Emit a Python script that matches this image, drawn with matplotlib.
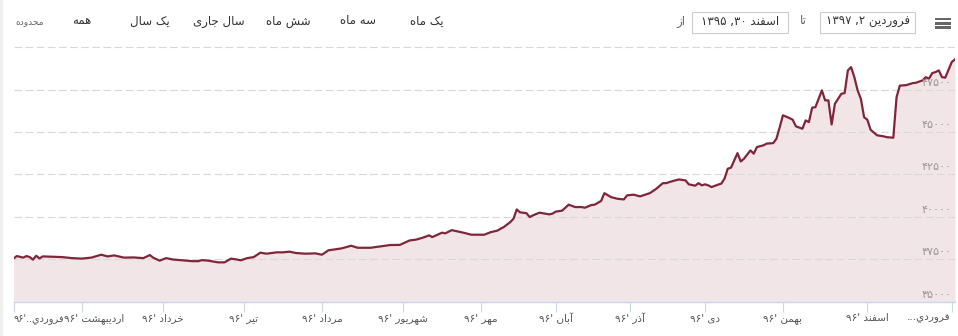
import numpy as np
import matplotlib
matplotlib.use("Agg")
import matplotlib.pyplot as plt
from matplotlib.patches import Rectangle

# ---------------- data ----------------
day_idx = [0, 1, 3, 4, 5, 6, 7, 8, 9, 12, 15, 18, 21, 24, 27, 29, 31, 34, 37, 40,
           42, 43, 45, 47, 49, 52, 55, 57, 58, 60, 63, 65, 67, 69, 70, 72, 74, 76, 78, 81,
           83, 85, 87, 90, 93, 95, 97, 101, 104, 106, 110, 113, 116, 119, 122, 124, 126, 128, 129, 132,
           133, 135, 139, 141, 145, 147, 149, 151, 153, 154, 155, 156, 158, 159, 160, 162, 165, 166, 167, 169,
           171, 173, 175, 176, 178, 179, 181, 182, 184, 186, 188, 189, 191, 193, 196, 198, 200, 201, 203, 205,
           207, 208, 210, 211, 212, 213, 214, 215, 217, 218, 219, 220, 221, 223, 224, 225, 227, 228, 229, 231,
           232, 234, 235, 236, 237, 239, 240, 241, 243, 244, 245, 246, 247, 249, 250, 251, 252, 253, 255, 256,
           257, 258, 259, 260, 261, 262, 263, 264, 266, 268, 269, 271, 272, 273, 275, 277, 278, 280, 281, 282,
           283, 284, 285, 286, 287, 289, 290]
rate = [37540, 37690, 37600, 37690, 37630, 37480, 37710, 37550, 37670, 37650, 37630, 37570, 37540, 37600, 37770, 37670, 37730, 37600, 37610, 37570,
        37750, 37600, 37420, 37570, 37490, 37440, 37390, 37390, 37450, 37420, 37320, 37320, 37540, 37480, 37440, 37570, 37630, 37890, 37830, 37910,
        37910, 37950, 37870, 37830, 37850, 37770, 38030, 38140, 38300, 38180, 38180, 38260, 38340, 38350, 38610, 38660, 38770, 38910, 38810, 39070,
        39030, 39220, 39050, 38950, 38950, 39100, 39190, 39400, 39690, 39890, 40440, 40270, 40220, 39990, 40090, 40250, 40150, 40190, 40310, 40370,
        40720, 40580, 40580, 40540, 40700, 40720, 40940, 41400, 41170, 41070, 41030, 41270, 41310, 41210, 41400, 41660, 41990, 41990, 42110, 42210,
        42150, 41920, 41840, 41990, 41860, 41920, 41860, 41760, 41900, 41960, 42250, 42840, 42900, 43760, 43270, 43430, 43920, 43730, 44120, 44220,
        44320, 44350, 44610, 45280, 45990, 45830, 45730, 45340, 45200, 45690, 45590, 46440, 46470, 47460, 46870, 46870, 45450, 46670, 47260, 47300,
        48640, 48830, 48240, 47460, 46970, 45880, 45730, 45140, 44810, 44750, 44700, 44670, 47060, 47740, 47770, 47890, 47910, 48050, 48240, 48150,
        48480, 48540, 48640, 48240, 48210, 49130, 49290]

month_idx = [0, 21, 46, 71, 95, 120, 144, 167, 190, 213, 237, 263, 289]
month_names = ["فروردي", "اردیبهشت", "خرداد", "تیر", "مرداد", "شهریور", "مهر",
               "آبان", "آذر", "دی", "بهمن", "اسفند", "فروردي"]
year_text = "96"
ytick_vals = [35000, 37500, 40000, 42500, 45000, 47500, 50000]
ylabel_vals = [35000, 37500, 40000, 42500, 45000, 47500]

range_buttons = ["همه", "یک سال", "سال جاری", "شش ماه", "سه ماه", "یک ماه"]
range_label = "محدوده"
from_label = "از"
to_label = "تا"
from_month, from_day, from_year = "اسفند", "30", "1395"
to_month, to_day, to_year = "فروردین", "2", "1397"

# ---------------- persian shaping helpers ----------------
FORMS = {
    'ا': ('\uFE8D', '\uFE8E', None, None),
    'آ': ('\uFE81', '\uFE82', None, None),
    'ب': ('\uFE8F', '\uFE90', '\uFE91', '\uFE92'),
    'پ': ('\uFB56', '\uFB57', '\uFB58', '\uFB59'),
    'ت': ('\uFE95', '\uFE96', '\uFE97', '\uFE98'),
    'ج': ('\uFE9D', '\uFE9E', '\uFE9F', '\uFEA0'),
    'ح': ('\uFEA1', '\uFEA2', '\uFEA3', '\uFEA4'),
    'خ': ('\uFEA5', '\uFEA6', '\uFEA7', '\uFEA8'),
    'د': ('\uFEA9', '\uFEAA', None, None),
    'ذ': ('\uFEAB', '\uFEAC', None, None),
    'ر': ('\uFEAD', '\uFEAE', None, None),
    'ز': ('\uFEAF', '\uFEB0', None, None),
    'س': ('\uFEB1', '\uFEB2', '\uFEB3', '\uFEB4'),
    'ش': ('\uFEB5', '\uFEB6', '\uFEB7', '\uFEB8'),
    'ف': ('\uFED1', '\uFED2', '\uFED3', '\uFED4'),
    'ک': ('\uFB8E', '\uFB8F', '\uFB90', '\uFB91'),
    'ل': ('\uFEDD', '\uFEDE', '\uFEDF', '\uFEE0'),
    'م': ('\uFEE1', '\uFEE2', '\uFEE3', '\uFEE4'),
    'ن': ('\uFEE5', '\uFEE6', '\uFEE7', '\uFEE8'),
    'ه': ('\uFEE9', '\uFEEA', '\uFEEB', '\uFEEC'),
    'و': ('\uFEED', '\uFEEE', None, None),
    'ی': ('\uFBFC', '\uFBFD', '\uFBFE', '\uFBFF'),
    'ي': ('\uFEF1', '\uFEF2', '\uFEF3', '\uFEF4'),
}


def rtl(text):
    out = []
    n = len(text)
    for i, ch in enumerate(text):
        f = FORMS.get(ch)
        if f is None:
            out.append(ch)
            continue
        prev = text[i - 1] if i > 0 else None
        nxt = text[i + 1] if i < n - 1 else None
        jp = (prev in FORMS and FORMS[prev][2] is not None) if prev else False
        jn = (nxt in FORMS and f[2] is not None) if nxt else False
        if jp and jn:
            g = f[3]
        elif jp:
            g = f[1]
        elif jn:
            g = f[2]
        else:
            g = f[0]
        out.append(g)
    return ''.join(reversed(out))


PDIG = str.maketrans('0123456789', '۰۱۲۳۴۵۶۷۸۹')


def fa(s):
    return str(s).translate(PDIG)


# ---------------- figure ----------------
W, H = 958, 336
fig = plt.figure(figsize=(W / 100, H / 100), dpi=100)
fig.patch.set_facecolor('white')
plt.rcParams['font.family'] = ['DejaVu Sans']

LEFT, RIGHT, TOP, BOTTOM = 13.5, 955.0, 40.0, 301.7
ax = fig.add_axes([LEFT / W, 1 - BOTTOM / H, (RIGHT - LEFT) / W, (BOTTOM - TOP) / H])
px_per_val = 42.4 / 2500.0
ax.set_xlim(0, 290)
ax.set_ylim(35000, 35000 + (BOTTOM - TOP) / px_per_val)
for s in ['top', 'left', 'right']:
    ax.spines[s].set_visible(False)
ax.spines['bottom'].set_color('#ccd6eb')
ax.spines['bottom'].set_linewidth(1.0)
ax.set_facecolor('none')

# grid lines
for v in ytick_vals[1:]:
    ax.axhline(v, color='#d8d8d8', lw=0.8, dashes=(7, 3), zorder=1)

line_color = '#80263a'
ax.fill_between(day_idx, rate, 35000, color='#f2e5e8', lw=0, zorder=0.5)
ax.plot(day_idx, rate, color=line_color, lw=1.6, zorder=3, solid_joinstyle='round')

# y labels inside at right
ax.set_yticks([])
for v in ylabel_vals:
    ax.annotate(fa(v), xy=(1.0, v), xycoords=('axes fraction', 'data'),
                xytext=(-3, 2), textcoords='offset pixels', ha='right', va='bottom',
                fontsize=8, color='#999999', zorder=4)

# x ticks (marks) and labels
ax.set_xticks(month_idx)
ax.set_xticklabels([])
ax.tick_params(axis='x', direction='out', length=7.2, width=0.8, color='#ccd6eb')
n_m = len(month_names)
for i, (mi, name) in enumerate(zip(month_idx, month_names)):
    ha = 'center'
    dx = 0
    fs = 7.5
    if i == 0:
        txt = fa(year_text) + "'.." + rtl(name)
        ha = 'left'
        fs = 7.0
    elif i == n_m - 1:
        txt = "..." + rtl(name)
        ha = 'right'
        dx = -1
    else:
        txt = fa(year_text) + "' " + rtl(name)
        if i == 1:
            dx = 12
    ax.annotate(txt, xy=(mi, 0), xycoords=('data', 'axes fraction'),
                xytext=(dx, -16.5), textcoords='offset pixels', ha=ha, va='center',
                fontsize=fs, color='#555555', annotation_clip=False)


def fx(x):
    return x / W


def fy(y):
    return 1 - y / H


# left border strip
fig.patches.append(Rectangle((0, 0), 3 / W, 1, transform=fig.transFigure,
                             facecolor='#eeeeee', edgecolor='none'))

# range selector
fig.text(fx(30), fy(22), rtl(range_label), fontsize=6.5, color='#666666', ha='center', va='center')
btn_x = [82, 150, 219, 288, 358, 427]
for bx, lab in zip(btn_x, range_buttons):
    fig.text(fx(bx), fy(21), rtl(lab), fontsize=8.5, color='#333333', ha='center', va='center')

# date inputs
fig.text(fx(681), fy(21), rtl(from_label), fontsize=8.5, color='#666666', ha='center', va='center')
fig.text(fx(803), fy(21), rtl(to_label), fontsize=8.5, color='#666666', ha='center', va='center')
for (x0, x1), (m, d, yv) in zip([(692, 788), (820, 915)],
                                 [(from_month, from_day, from_year), (to_month, to_day, to_year)]):
    fig.patches.append(Rectangle((fx(x0), fy(33)), (x1 - x0) / W, 21 / H, transform=fig.transFigure,
                                 facecolor='white', edgecolor='#cccccc', lw=0.8))
    fig.text(fx((x0 + x1) / 2), fy(22), fa(yv) + " ," + fa(d) + " " + rtl(m),
             fontsize=8.5, color='#333333', ha='center', va='center')

# hamburger menu
for yy in [19, 23.3, 27.6]:
    fig.patches.append(Rectangle((fx(935), fy(yy + 1.3)), 16 / W, 2.6 / H, transform=fig.transFigure,
                                 facecolor='#666666', edgecolor='none'))

fig.savefig('out.png', dpi=100, facecolor='white')
